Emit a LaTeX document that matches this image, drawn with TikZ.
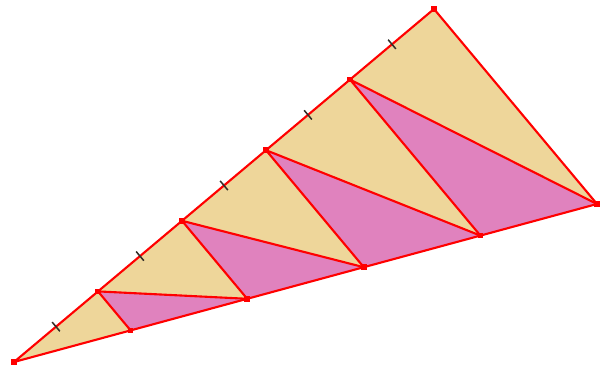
\documentclass[tikz,border=0pt]{standalone}
\usetikzlibrary{calc,math}
\definecolor{mytan}{RGB}{238,214,154}
\definecolor{mypink}{RGB}{224,130,190}
\definecolor{myred}{RGB}{255,0,0}

\begin{document}
\begin{tikzpicture}[x=0.025cm,y=-0.025cm]
\tikzmath{
\w=1.5;
\s=2.8;
}
\useasboundingbox (0,0) rectangle (604,365);

\coordinate (A) at (14,362);
\coordinate (T) at (434,9);
\coordinate (R) at (597,204);
\foreach \i in {0,...,5}{
\coordinate (L\i) at ($(A)!\i*0.2!(T)$);
\coordinate (B\i) at ($(A)!\i*0.2!(R)$);
}

\fill[mytan] (A) -- (T) -- (R) -- cycle;
\foreach \i/\j in {1/2,2/3,3/4,4/5}
\fill[mypink] (L\i) -- (B\i) -- (B\j) -- cycle;

\draw[myred, line width=\w pt, line join=round] (A) -- (T) -- (R) -- cycle;
\foreach \i/\j in {1/2,2/3,3/4,4/5}
\draw[myred, line width=\w pt, line join=round] (B\i) -- (L\i) -- (B\j);

% ticks on the long side
\foreach \i/\j in {0/1,1/2,2/3,3/4,4/5}{
\coordinate (M\i) at ($(L\i)!0.5!(L\j)$);
\draw[black!85!olive, line width=1.1pt] ($(M\i)!0.15cm!90:(T)$) -- ($(M\i)!0.15cm!-90:(T)$);
}

\foreach \p in {A,L1,L2,L3,L4,T,B1,B2,B3,B4,R}
\fill[myred] (\p) ++(-\s,-\s) rectangle ++(2*\s,2*\s);

\end{tikzpicture}
\end{document}
